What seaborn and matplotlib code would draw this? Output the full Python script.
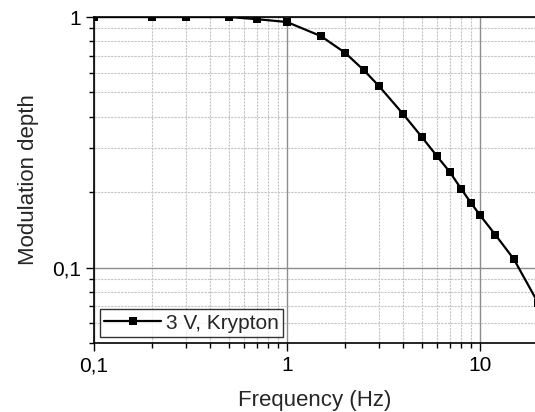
import matplotlib
matplotlib.use("Agg")
import matplotlib.pyplot as plt
import matplotlib.ticker as mticker
import pandas as pd
import seaborn as sns

# data
freq_hz = [0.1, 0.2, 0.3, 0.5, 0.7, 1.0, 1.5, 2.0, 2.5, 3.0, 4.0, 5.0, 6.0, 7.0, 8.0, 9.0, 10.0, 12.0, 15.0, 20.0]
mod_depth = [1.0, 1.0, 1.0, 1.0, 0.98, 0.955, 0.839, 0.72, 0.614, 0.53, 0.41, 0.332, 0.278, 0.24,
             0.206, 0.181, 0.162, 0.1355, 0.108, 0.0724]
series_name = "3 V, Krypton"
x_ticks = [0.1, 1, 10]
y_ticks = [0.1, 1]

sns.set_style("white")
plt.rcParams["font.family"] = ["Liberation Sans", "DejaVu Sans"]

df = pd.DataFrame({"Frequency": freq_hz, "Depth": mod_depth, "series": series_name})


def comma_fmt(v, _pos):
    if v >= 1:
        return f"{v:g}"
    return f"{v:g}".replace(".", ",")


fig = plt.figure(figsize=(5.35, 4.12), dpi=100)
ax = fig.add_axes([94 / 535, (412 - 343) / 412, (535 - 94) / 535, (343 - 17) / 412])

sns.lineplot(data=df, x="Frequency", y="Depth", hue="series", palette=["black"],
             marker="s", markersize=6, markeredgewidth=0, linewidth=1.6, ax=ax)

ax.set_xscale("log")
ax.set_yscale("log")
ax.set_xlim(0.1, 19.3)
ax.set_ylim(0.05, 1.0)

ax.xaxis.set_major_locator(mticker.FixedLocator(x_ticks))
ax.yaxis.set_major_locator(mticker.FixedLocator(y_ticks))
ax.xaxis.set_minor_locator(mticker.LogLocator(base=10, subs=range(2, 10)))
ax.yaxis.set_minor_locator(mticker.LogLocator(base=10, subs=range(2, 10)))
ax.xaxis.set_major_formatter(mticker.FuncFormatter(comma_fmt))
ax.yaxis.set_major_formatter(mticker.FuncFormatter(comma_fmt))
ax.xaxis.set_minor_formatter(mticker.NullFormatter())
ax.yaxis.set_minor_formatter(mticker.NullFormatter())

ax.grid(which="major", color="#8c8c8c", linestyle="-", linewidth=1.0)
ax.grid(which="minor", color="#c4c4c4", linestyle=(0, (2, 1)), linewidth=0.8)
ax.set_axisbelow(True)

ax.tick_params(which="major", direction="out", length=6, width=1, labelsize=15,
               bottom=True, left=True, colors="black")
ax.tick_params(which="minor", direction="out", length=3.5, width=1,
               bottom=True, left=True, colors="black")
for side in ["left", "bottom", "top"]:
    ax.spines[side].set_color("black")
    ax.spines[side].set_linewidth(1.2)
ax.spines["right"].set_visible(False)

ax.set_xlabel("Frequency (Hz)", fontsize=16, labelpad=11)
ax.set_ylabel("Modulation depth", fontsize=16, labelpad=9)

leg = ax.legend(loc="lower left", fontsize=15, frameon=True, fancybox=False,
                borderpad=0.2, handlelength=2.7, handletextpad=0.25,
                borderaxespad=0.3)
leg.get_frame().set_edgecolor("black")
leg.get_frame().set_linewidth(1.0)

fig.savefig("out.png", dpi=100)
plt.close(fig)
